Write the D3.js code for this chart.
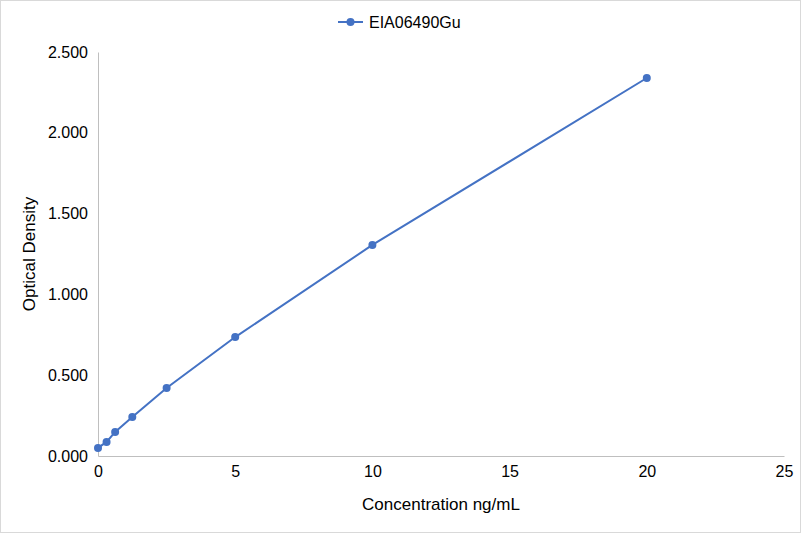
<!DOCTYPE html>
<html>
<head>
<meta charset="utf-8">
<script src="https://cdn.jsdelivr.net/npm/d3@7"></script>
<style>
  body { margin: 0; background: #fff; }
  svg { display: block; font-family: "Liberation Sans", Arial, sans-serif; }
</style>
</head>
<body>
<svg id="main"></svg>
<script>
const width = 801;
const height = 533;

const seriesName = 'EIA06490Gu';
const concentrations = [0, 0.3125, 0.625, 1.25, 2.5, 5, 10, 20];
const densities = [0.050, 0.087, 0.149, 0.241, 0.421, 0.736, 1.306, 2.339];
const xTicks = [0, 5, 10, 15, 20, 25];
const yTicks = [0, 0.5, 1, 1.5, 2, 2.5];

const color = '#4472c4';
const axisColor = '#bfbfbf';

const margin = {top: 52, right: 17, bottom: 77, left: 98};

const svg = d3.select('#main')
  .attr('width', width)
  .attr('height', height);

// outer border
svg.append('rect')
  .attr('x', 0.5).attr('y', 0.5)
  .attr('width', width - 1).attr('height', height - 1)
  .attr('fill', '#fff')
  .attr('stroke', '#d9d9d9');

const x = d3.scaleLinear().domain([0, 25]).range([margin.left, width - margin.right]);
const y = d3.scaleLinear().domain([0, 2.5]).range([height - margin.bottom, margin.top]);

// axes
const xAxis = svg.append('g')
  .attr('transform', `translate(0, ${y(0)})`)
  .call(d3.axisBottom(x).tickValues(xTicks).tickSize(0).tickPadding(10).tickFormat(d3.format('d')));
const yAxis = svg.append('g')
  .attr('transform', `translate(${x(0)}, 0)`)
  .call(d3.axisLeft(y).tickValues(yTicks).tickSize(0).tickPadding(10).tickFormat(d3.format('.3f')));

[xAxis, yAxis].forEach(a => {
  a.select('.domain').attr('stroke', axisColor).attr('stroke-width', 1);
  a.selectAll('text').attr('fill', '#000').style('font-size', '16px')
    .style('font-family', '"Liberation Sans", Arial, sans-serif');
});

// axis titles
svg.append('text')
  .attr('x', (x(0) + x(25)) / 2)
  .attr('y', 510)
  .attr('text-anchor', 'middle')
  .style('font-size', '17px')
  .text('Concentration ng/mL');

svg.append('text')
  .attr('transform', `translate(35, ${(y(0) + y(2.5)) / 2}) rotate(-90)`)
  .attr('text-anchor', 'middle')
  .style('font-size', '17px')
  .text('Optical Density');

// series
const points = concentrations.map((c, i) => [c, densities[i]]);

svg.append('path')
  .datum(points)
  .attr('fill', 'none')
  .attr('stroke', color)
  .attr('stroke-width', 2)
  .attr('d', d3.line().x(d => x(d[0])).y(d => y(d[1])));

svg.selectAll('circle.pt')
  .data(points)
  .join('circle')
  .classed('pt', true)
  .attr('cx', d => x(d[0]))
  .attr('cy', d => y(d[1]))
  .attr('r', 4)
  .attr('fill', color);

// legend
const legend = svg.append('g').attr('transform', 'translate(338, 22)');
legend.append('line')
  .attr('x1', 0).attr('x2', 25).attr('y1', 0).attr('y2', 0)
  .attr('stroke', color).attr('stroke-width', 2);
legend.append('circle')
  .attr('cx', 12.5).attr('cy', 0).attr('r', 4).attr('fill', color);
legend.append('text')
  .attr('x', 31).attr('y', 5.5)
  .style('font-size', '16px')
  .text(seriesName);
</script>
</body>
</html>
